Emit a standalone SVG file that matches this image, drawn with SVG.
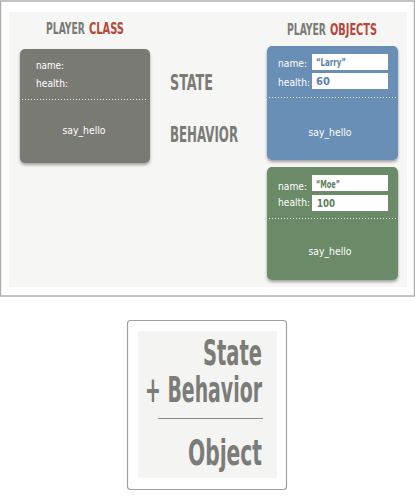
<svg xmlns="http://www.w3.org/2000/svg" width="415" height="500" viewBox="0 0 415 500">
<defs>
<filter id="sh" x="-10%" y="-10%" width="120%" height="125%">
<feDropShadow dx="0" dy="2" stdDeviation="1.5" flood-color="#000" flood-opacity="0.35"/>
</filter>
</defs>
<style>
text{font-family:"DejaVu Sans Condensed","Liberation Sans Narrow","Liberation Sans",sans-serif;}
.hd{font-size:12px;font-weight:bold;fill:#7b7b76;}
.red{fill:#b5483a;}
.big{font-size:21px;font-weight:bold;fill:#7b7b76;}
.lbl{font-size:11px;fill:#ffffff;}
.fld{fill:#ffffff;}
.fv{font-size:11px;font-weight:bold;}
.dot{stroke:#ffffff;stroke-width:1;stroke-dasharray:1 2;opacity:0.85;}
.sum{font-size:36px;font-weight:bold;fill:#7b7b78;}
</style>
<rect x="0.5" y="1" width="414" height="295" fill="#ffffff" stroke="#b0b0b0" stroke-width="1.5"/>
<rect x="9" y="12" width="398" height="275" fill="#f6f6f4"/>
<g id="headers">
<g transform="translate(46,34) scale(1,1.25)">
<text class="hd" x="0" y="0" textLength="39" lengthAdjust="spacingAndGlyphs">PLAYER</text>
<text class="hd red" x="43" y="0" textLength="35" lengthAdjust="spacingAndGlyphs">CLASS</text>
</g>
<g transform="translate(287,35) scale(1,1.25)">
<text class="hd" x="0" y="0" textLength="39" lengthAdjust="spacingAndGlyphs">PLAYER</text>
<text class="hd red" x="43" y="0" textLength="47" lengthAdjust="spacingAndGlyphs">OBJECTS</text>
</g>
<text class="big" x="170" y="90" textLength="43" lengthAdjust="spacingAndGlyphs">STATE</text>
<text class="big" x="170" y="142" textLength="68" lengthAdjust="spacingAndGlyphs">BEHAVIOR</text>
</g>
<g id="player-class">
<rect x="20" y="49" width="130" height="114" rx="5" fill="#7a7a75" filter="url(#sh)"/>
<text class="lbl" x="36" y="69" textLength="28" lengthAdjust="spacingAndGlyphs">name:</text>
<text class="lbl" x="36" y="87" textLength="32" lengthAdjust="spacingAndGlyphs">health:</text>
<line class="dot" x1="22" y1="99.5" x2="148" y2="99.5"/>
<text class="lbl" x="84" y="134" text-anchor="middle" textLength="43" lengthAdjust="spacingAndGlyphs">say_hello</text>
</g>
<g id="player-larry">
<rect x="267" y="46" width="131" height="114" rx="5" fill="#6a8fb6" filter="url(#sh)"/>
<text class="lbl" x="278" y="67" textLength="29" lengthAdjust="spacingAndGlyphs">name:</text>
<text class="lbl" x="278" y="86" textLength="32" lengthAdjust="spacingAndGlyphs">health:</text>
<rect class="fld" x="312" y="54" width="76" height="16"/>
<rect class="fld" x="312" y="73" width="76" height="16"/>
<text class="fv" x="316" y="66" fill="#5b82ad" textLength="30" lengthAdjust="spacingAndGlyphs">“Larry”</text>
<text class="fv" x="316" y="85" fill="#5b82ad" textLength="14" lengthAdjust="spacingAndGlyphs">60</text>
<line class="dot" x1="269" y1="97.5" x2="396" y2="97.5"/>
<text class="lbl" x="330" y="136" text-anchor="middle" textLength="43" lengthAdjust="spacingAndGlyphs">say_hello</text>
</g>
<g id="player-moe">
<rect x="267" y="167" width="131" height="113" rx="5" fill="#6b8a68" filter="url(#sh)"/>
<text class="lbl" x="278" y="190" textLength="29" lengthAdjust="spacingAndGlyphs">name:</text>
<text class="lbl" x="278" y="206" textLength="32" lengthAdjust="spacingAndGlyphs">health:</text>
<rect class="fld" x="312" y="175" width="76" height="16"/>
<rect class="fld" x="312" y="195" width="76" height="16"/>
<text class="fv" x="316" y="188" fill="#5e7d5b" textLength="24" lengthAdjust="spacingAndGlyphs">“Moe”</text>
<text class="fv" x="317" y="207" fill="#5e7d5b" textLength="18" lengthAdjust="spacingAndGlyphs">100</text>
<line class="dot" x1="269" y1="218.5" x2="396" y2="218.5"/>
<text class="lbl" x="330" y="255" text-anchor="middle" textLength="43" lengthAdjust="spacingAndGlyphs">say_hello</text>
</g>
<g id="connectors"></g>
<g id="summary">
<rect x="127.5" y="320.5" width="159" height="169" rx="3" fill="#ffffff" stroke="#a0a0a0" stroke-width="1.2"/>
<rect x="138" y="331" width="139" height="147" fill="#f4f4f2"/>
<text class="sum" x="262" y="365" text-anchor="end" textLength="59" lengthAdjust="spacingAndGlyphs">State</text>
<text class="sum" x="262" y="402" text-anchor="end" textLength="117" lengthAdjust="spacingAndGlyphs">+ Behavior</text>
<line x1="158" y1="418.5" x2="263" y2="418.5" stroke="#8a8a88" stroke-width="1"/>
<text class="sum" x="262" y="465" text-anchor="end" textLength="74" lengthAdjust="spacingAndGlyphs">Object</text>
</g>
</svg>
